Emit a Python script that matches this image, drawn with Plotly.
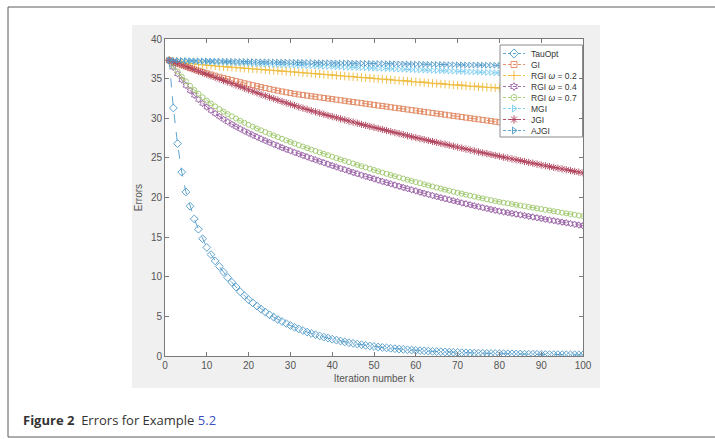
import plotly.graph_objects as go

k = list(range(1, 101))

tauopt = [37.30, 31.30, 26.80, 23.20, 20.70, 18.90, 17.30, 16.00, 14.80, 13.70,
          12.80, 12.00, 11.30, 10.60, 9.90, 9.30, 8.70, 8.10, 7.60, 7.10,
          6.70, 6.30, 5.90, 5.55, 5.20, 4.90, 4.60, 4.35, 4.10, 3.85,
          3.62, 3.41, 3.21, 3.02, 2.85, 2.68, 2.53, 2.38, 2.25, 2.12,
          2.00, 1.89, 1.78, 1.68, 1.59, 1.50, 1.42, 1.34, 1.27, 1.20,
          1.14, 1.08, 1.02, 0.97, 0.92, 0.87, 0.83, 0.79, 0.75, 0.71,
          0.68, 0.65, 0.62, 0.59, 0.56, 0.54, 0.51, 0.49, 0.47, 0.45,
          0.43, 0.41, 0.39, 0.38, 0.36, 0.35, 0.33, 0.32, 0.31, 0.30,
          0.29, 0.28, 0.27, 0.26, 0.25, 0.24, 0.23, 0.22, 0.21, 0.20,
          0.19, 0.18, 0.18, 0.17, 0.16, 0.16, 0.15, 0.15, 0.14, 0.14]

gi = [37.30, 37.09, 36.89, 36.70, 36.52, 36.34, 36.17, 36.00, 35.84, 35.68,
      35.53, 35.38, 35.23, 35.09, 34.95, 34.81, 34.68, 34.55, 34.42, 34.29,
      34.17, 34.05, 33.93, 33.81, 33.70, 33.59, 33.48, 33.38, 33.28, 33.18,
      33.09, 33.00, 32.93, 32.85, 32.78, 32.71, 32.64, 32.56, 32.49, 32.42,
      32.34, 32.27, 32.20, 32.12, 32.05, 31.98, 31.91, 31.83, 31.76, 31.69,
      31.61, 31.54, 31.47, 31.39, 31.32, 31.25, 31.18, 31.10, 31.03, 30.96,
      30.88, 30.81, 30.74, 30.66, 30.59, 30.52, 30.45, 30.37, 30.30, 30.23,
      30.15, 30.08, 30.01, 29.93, 29.86, 29.79, 29.72, 29.64, 29.57, 29.50,
      29.42, 29.35, 29.28, 29.20, 29.13, 29.06, 28.99, 28.91, 28.84, 28.77,
      28.69, 28.62, 28.55, 28.47, 28.40, 28.33, 28.26, 28.18, 28.11, 28.04]

rgi_02 = [37.30, 37.20, 37.12, 37.05, 36.98, 36.92, 36.86, 36.80, 36.75, 36.70,
          36.65, 36.60, 36.55, 36.51, 36.47, 36.43, 36.39, 36.35, 36.31, 36.27,
          36.23, 36.19, 36.15, 36.11, 36.07, 36.03, 35.99, 35.95, 35.91, 35.87,
          35.83, 35.79, 35.75, 35.70, 35.66, 35.62, 35.57, 35.53, 35.49, 35.44,
          35.40, 35.36, 35.31, 35.27, 35.23, 35.18, 35.14, 35.10, 35.06, 35.01,
          34.97, 34.93, 34.88, 34.84, 34.80, 34.75, 34.71, 34.67, 34.62, 34.58,
          34.54, 34.50, 34.45, 34.41, 34.37, 34.33, 34.29, 34.25, 34.21, 34.17,
          34.13, 34.09, 34.05, 34.01, 33.97, 33.94, 33.90, 33.87, 33.84, 33.80,
          33.77, 33.74, 33.71, 33.68, 33.64, 33.61, 33.58, 33.55, 33.52, 33.49,
          33.46, 33.43, 33.40, 33.37, 33.34, 33.31, 33.28, 33.25, 33.22, 33.19]

rgi_04 = [37.30, 36.43, 35.60, 34.84, 34.14, 33.50, 32.91, 32.37, 31.87, 31.41,
          30.99, 30.60, 30.23, 29.88, 29.55, 29.24, 28.94, 28.66, 28.39, 28.13,
          27.88, 27.64, 27.40, 27.17, 26.94, 26.72, 26.51, 26.29, 26.09, 25.89,
          25.69, 25.50, 25.31, 25.12, 24.93, 24.75, 24.57, 24.39, 24.21, 24.03,
          23.85, 23.68, 23.51, 23.34, 23.17, 23.00, 22.83, 22.67, 22.51, 22.35,
          22.19, 22.03, 21.87, 21.72, 21.57, 21.42, 21.27, 21.12, 20.97, 20.83,
          20.67, 20.53, 20.39, 20.25, 20.11, 19.98, 19.85, 19.72, 19.59, 19.46,
          19.32, 19.20, 19.08, 18.96, 18.84, 18.72, 18.61, 18.50, 18.39, 18.28,
          18.17, 18.08, 17.99, 17.90, 17.81, 17.72, 17.63, 17.54, 17.45, 17.36,
          17.25, 17.16, 17.07, 16.98, 16.89, 16.80, 16.71, 16.62, 16.53, 16.44]

rgi_07 = [37.30, 36.58, 35.90, 35.26, 34.66, 34.10, 33.58, 33.10, 32.65, 32.24,
          31.86, 31.50, 31.16, 30.84, 30.53, 30.24, 29.96, 29.69, 29.43, 29.18,
          28.94, 28.71, 28.48, 28.26, 28.04, 27.83, 27.62, 27.41, 27.21, 27.01,
          26.81, 26.62, 26.43, 26.24, 26.05, 25.87, 25.69, 25.51, 25.33, 25.15,
          24.97, 24.80, 24.63, 24.46, 24.29, 24.12, 23.95, 23.79, 23.63, 23.47,
          23.31, 23.15, 22.99, 22.84, 22.69, 22.54, 22.39, 22.24, 22.09, 21.95,
          21.81, 21.67, 21.53, 21.39, 21.25, 21.12, 20.99, 20.86, 20.73, 20.60,
          20.48, 20.36, 20.24, 20.12, 20.00, 19.88, 19.77, 19.66, 19.55, 19.44,
          19.35, 19.26, 19.17, 19.08, 18.99, 18.90, 18.81, 18.72, 18.63, 18.54,
          18.45, 18.36, 18.27, 18.18, 18.09, 18.00, 17.91, 17.82, 17.73, 17.64]

mgi = [37.30, 37.28, 37.26, 37.24, 37.22, 37.20, 37.18, 37.16, 37.14, 37.12,
       37.10, 37.08, 37.06, 37.04, 37.02, 37.00, 36.98, 36.96, 36.94, 36.92,
       36.90, 36.88, 36.86, 36.84, 36.82, 36.80, 36.78, 36.76, 36.74, 36.72,
       36.70, 36.68, 36.66, 36.64, 36.62, 36.60, 36.58, 36.56, 36.54, 36.52,
       36.50, 36.48, 36.46, 36.44, 36.42, 36.40, 36.38, 36.36, 36.34, 36.32,
       36.30, 36.28, 36.26, 36.24, 36.22, 36.20, 36.18, 36.16, 36.14, 36.12,
       36.10, 36.08, 36.06, 36.04, 36.02, 36.00, 35.98, 35.96, 35.94, 35.92,
       35.90, 35.88, 35.86, 35.84, 35.82, 35.80, 35.78, 35.76, 35.74, 35.72,
       35.70, 35.68, 35.66, 35.64, 35.62, 35.60, 35.58, 35.56, 35.54, 35.52,
       35.50, 35.48, 35.46, 35.44, 35.42, 35.40, 35.38, 35.36, 35.34, 35.32]

jgi = [37.30, 37.10, 36.91, 36.71, 36.52, 36.32, 36.13, 35.93, 35.74, 35.54,
       35.35, 35.15, 34.96, 34.76, 34.57, 34.37, 34.18, 33.98, 33.79, 33.59,
       33.40, 33.21, 33.02, 32.83, 32.65, 32.47, 32.29, 32.11, 31.94, 31.77,
       31.60, 31.43, 31.27, 31.11, 30.95, 30.80, 30.65, 30.50, 30.35, 30.21,
       30.07, 29.93, 29.79, 29.65, 29.51, 29.37, 29.23, 29.10, 28.97, 28.84,
       28.71, 28.58, 28.45, 28.32, 28.19, 28.06, 27.93, 27.80, 27.67, 27.55,
       27.43, 27.31, 27.19, 27.07, 26.95, 26.83, 26.71, 26.59, 26.47, 26.35,
       26.23, 26.11, 25.99, 25.87, 25.75, 25.64, 25.53, 25.42, 25.31, 25.20,
       25.09, 24.98, 24.87, 24.76, 24.65, 24.54, 24.43, 24.32, 24.21, 24.10,
       24.00, 23.90, 23.80, 23.70, 23.60, 23.50, 23.40, 23.30, 23.20, 23.10]

ajgi = [37.30, 37.29, 37.28, 37.28, 37.27, 37.26, 37.25, 37.24, 37.24, 37.23,
        37.22, 37.21, 37.20, 37.20, 37.19, 37.18, 37.17, 37.16, 37.16, 37.15,
        37.14, 37.13, 37.12, 37.12, 37.11, 37.10, 37.09, 37.08, 37.08, 37.07,
        37.06, 37.05, 37.04, 37.04, 37.03, 37.02, 37.01, 37.00, 37.00, 36.99,
        36.98, 36.97, 36.96, 36.96, 36.95, 36.94, 36.93, 36.92, 36.92, 36.91,
        36.90, 36.89, 36.88, 36.88, 36.87, 36.86, 36.85, 36.84, 36.84, 36.83,
        36.82, 36.81, 36.80, 36.80, 36.79, 36.78, 36.77, 36.76, 36.76, 36.75,
        36.74, 36.73, 36.72, 36.72, 36.71, 36.70, 36.69, 36.68, 36.68, 36.67,
        36.66, 36.65, 36.64, 36.64, 36.63, 36.62, 36.61, 36.60, 36.60, 36.59,
        36.58, 36.57, 36.56, 36.56, 36.55, 36.54, 36.53, 36.52, 36.52, 36.51]

names = ["TauOpt", "GI", "RGI <i>ω</i> = 0.2", "RGI <i>ω</i> = 0.4",
         "RGI <i>ω</i> = 0.7", "MGI", "JGI", "AJGI"]
series = [tauopt, gi, rgi_02, rgi_04, rgi_07, mgi, jgi, ajgi]
colors = ["#4e98c8", "#e0845c", "#edbb3c", "#9a62a6", "#9cc66a", "#78cbee", "#b0405a", "#4e98c8"]
symbols = ["diamond-open", "square-open", "cross-thin-open", "hexagram-open",
           "circle-open", "triangle-right-open", "asterisk-open", "triangle-right-open"]
sizes = [6, 5, 6, 5, 5, 5, 6, 5]

x_ticks = list(range(0, 101, 10))
y_ticks = list(range(0, 41, 5))

# layout constants (pixels)
L, R, T, B = 165, 583, 39, 356
W, H = 715, 439
pw, ph = R - L, B - T


def px(xp):
    return (xp - L) / pw


def py(yp):
    return (B - yp) / ph


FONT = "Liberation Sans, Arial"

fig = go.Figure()
for nm, ys, c, s, sz in zip(names, series, colors, symbols, sizes):
    fig.add_trace(go.Scatter(
        x=k, y=ys, name=nm, mode="lines+markers", showlegend=False,
        line=dict(color=c, width=0.9, dash="dash"),
        marker=dict(symbol=s, size=sz, color=c, line=dict(color=c, width=0.9)),
    ))

# custom legend drawn in pixel space on an overlay axis pair
LG_X0, LG_X1, LG_Y0, LG_Y1 = 500, 582.5, 45, 137
ROW0, ROW_STEP = 53.5, 11.0
fig.add_trace(go.Scatter(
    x=[LG_X0, LG_X1, LG_X1, LG_X0, LG_X0], y=[LG_Y0, LG_Y0, LG_Y1, LG_Y1, LG_Y0],
    xaxis="x2", yaxis="y2", mode="lines", fill="toself", fillcolor="white",
    line=dict(color="#8c8c8c", width=1), showlegend=False, hoverinfo="skip"))
annotations = []
for i, (nm, c, s, sz) in enumerate(zip(names, colors, symbols, sizes)):
    yy = ROW0 + ROW_STEP * i
    fig.add_trace(go.Scatter(
        x=[503, 525], y=[yy, yy], xaxis="x2", yaxis="y2", mode="lines",
        line=dict(color=c, width=0.9, dash="3px,2px"), showlegend=False, hoverinfo="skip"))
    fig.add_trace(go.Scatter(
        x=[514], y=[yy], xaxis="x2", yaxis="y2", mode="markers",
        marker=dict(symbol=s, size=sz + 1, color=c, line=dict(color=c, width=0.9)),
        showlegend=False, hoverinfo="skip"))
    annotations.append(dict(xref="x2", yref="y2", x=528.5, y=yy, xanchor="left", yanchor="middle",
                            text=nm, showarrow=False,
                            font=dict(family=FONT, size=8.5, color="#333333")))

annotations.append(dict(
    xref="paper", yref="paper", x=px(21), y=py(420), xanchor="left", yanchor="middle",
    showarrow=False,
    text="<b>Figure 2</b>  Errors for Example <span style='color:#3f4fc0'>5.2</span>",
    font=dict(family="Open Sans, Noto Sans", size=13, color="#333333")))

shapes = [
    dict(type="rect", xref="paper", yref="paper", layer="below",
         x0=px(132), x1=px(600), y0=py(388), y1=py(25),
         fillcolor="#f0f0f0", line=dict(width=0)),
    dict(type="rect", xref="paper", yref="paper", layer="below",
         x0=0, x1=1, y0=0, y1=1, fillcolor="white", line=dict(width=0)),
    dict(type="rect", xref="paper", yref="paper", layer="above",
         x0=px(8), x1=px(716), y0=py(437), y1=py(7),
         fillcolor="rgba(0,0,0,0)", line=dict(color="#5a5a5a", width=1)),
]

axis_common = dict(
    showgrid=False, zeroline=False, showline=True, linecolor="#7a7a7a", linewidth=1,
    mirror="ticks", ticks="inside", ticklen=4, tickcolor="#7a7a7a",
    tickfont=dict(family=FONT, size=10, color="#555555"),
)

fig.update_layout(
    width=W, height=H,
    margin=dict(l=L, r=W - R, t=T, b=H - B),
    paper_bgcolor="white", plot_bgcolor="white",
    shapes=shapes,
    annotations=annotations,
    showlegend=False,
    xaxis=dict(range=[0, 100], tickvals=x_ticks,
               title=dict(text="Iteration number k", standoff=4,
                          font=dict(family=FONT, size=10, color="#555555")),
               **axis_common),
    yaxis=dict(range=[0, 40], tickvals=y_ticks,
               title=dict(text="Errors", standoff=6,
                          font=dict(family=FONT, size=10, color="#555555")),
               **axis_common),
    xaxis2=dict(overlaying="x", range=[L, R], visible=False, fixedrange=True),
    yaxis2=dict(overlaying="y", range=[B, T], visible=False, fixedrange=True),
)

fig.write_html("out.html")
